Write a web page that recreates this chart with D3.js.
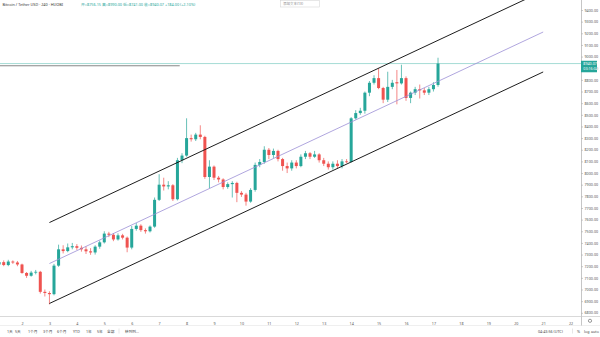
<!DOCTYPE html>
<html>
<head>
<meta charset="utf-8">
<script src="https://cdn.jsdelivr.net/npm/d3@7"></script>
<style>
  html, body { margin: 0; padding: 0; background: #ffffff; }
  svg { display: block; font-family: "Noto Sans", "Noto Sans CJK SC", sans-serif; }
</style>
</head>
<body>
<svg id="chart" width="600" height="337"></svg>
<script>
// BTC/USDT, 4-hour bars on HUOBI, first bar opens 2020-01-01 04:00 UTC
const firstBar = Date.UTC(2020, 0, 1, 4);
const barHours = 4;

const opens = [
  7215, 7235, 7210, 7240, 7232, 7215, 7142, 7118, 7145, 7152, 6980, 6970,
  6960, 7205, 7345, 7330, 7362, 7372, 7358, 7345, 7328, 7318, 7368, 7405,
  7480, 7470, 7430, 7465, 7445, 7360, 7520, 7548, 7510, 7500, 7540, 7770,
  7900, 7885, 7895, 7775, 8110, 8150, 8300, 8290, 8330, 8310, 7966, 8055,
  7960, 7945, 7880, 7905, 7915, 7830, 7815, 7755, 7855, 8070, 8095, 8200,
  8155, 8190, 8120, 8060, 8040, 8090, 8060, 8140, 8170, 8140, 8160, 8110,
  8080, 8050, 8080, 8060, 8100, 8095, 8470, 8515, 8535, 8690, 8775, 8815,
  8730, 8630, 8740, 8780, 8770, 8815, 8645, 8690, 8720, 8710, 8690, 8720,
  8756.15
];
const highs = [
  7245, 7250, 7255, 7250, 7245, 7222, 7150, 7160, 7168, 7160, 7000, 6985,
  7220, 7385, 7380, 7395, 7400, 7390, 7378, 7370, 7355, 7380, 7420, 7500,
  7495, 7485, 7482, 7478, 7455, 7545, 7570, 7560, 7525, 7550, 7790, 7990,
  7960, 7930, 7905, 8130, 8170, 8470, 8330, 8345, 8410, 8320, 8110, 8065,
  7975, 7955, 7920, 7930, 7925, 7845, 7830, 7870, 8090, 8120, 8230, 8215,
  8210, 8200, 8130, 8090, 8110, 8110, 8160, 8190, 8180, 8190, 8170, 8130,
  8100, 8100, 8110, 8120, 8120, 8480, 8540, 8560, 8700, 8790, 8840, 8900,
  8740, 8870, 8800, 8885, 8930, 8830, 8700, 8740, 8760, 8730, 8740, 8780,
  8990.00
];
const lows = [
  7205, 7200, 7200, 7220, 7200, 7135, 7100, 7110, 7130, 6965, 6940, 6872,
  6950, 7195, 7310, 7320, 7345, 7340, 7325, 7305, 7298, 7300, 7350, 7395,
  7450, 7415, 7420, 7430, 7320, 7345, 7505, 7495, 7480, 7490, 7530, 7760,
  7850, 7860, 7760, 7765, 8085, 8140, 8270, 8275, 8290, 7950, 7870, 7940,
  7920, 7860, 7865, 7790, 7750, 7795, 7720, 7745, 7840, 8050, 8080, 8120,
  8130, 8100, 8020, 8000, 8020, 8040, 8050, 8120, 8120, 8130, 8090, 8060,
  8030, 8030, 8040, 8040, 8085, 8090, 8460, 8500, 8510, 8660, 8760, 8720,
  8600, 8610, 8720, 8590, 8760, 8620, 8600, 8670, 8640, 8670, 8670, 8700,
  8741.00
];
const closes = [
  7235, 7210, 7240, 7232, 7215, 7142, 7118, 7145, 7152, 6980, 6970, 6960,
  7205, 7345, 7330, 7362, 7372, 7358, 7345, 7328, 7318, 7368, 7405, 7480,
  7470, 7430, 7465, 7445, 7360, 7520, 7548, 7510, 7500, 7540, 7770, 7900,
  7885, 7895, 7775, 8110, 8150, 8300, 8290, 8330, 8310, 7966, 8055, 7960,
  7945, 7880, 7905, 7915, 7830, 7815, 7755, 7855, 8070, 8095, 8200, 8155,
  8190, 8120, 8060, 8040, 8090, 8060, 8140, 8170, 8140, 8160, 8110, 8080,
  8050, 8080, 8060, 8100, 8095, 8470, 8515, 8535, 8690, 8775, 8815, 8730,
  8630, 8740, 8775, 8770, 8815, 8645, 8690, 8720, 8710, 8690, 8720, 8756,
  8940.07
];

// Parallel channel drawn on the chart: two anchor times, price at each
const channelTimes = [Date.UTC(2020, 0, 3), Date.UTC(2020, 0, 21)];
const channelUpper = [7575, 9563];
const channelMiddle = [7223, 9211];
const channelLower = [6880, 8868];

const priceTicks = d3.range(6800, 9401, 100);
const dayTicks = d3.range(2, 23);
const rangeButtons = ["1天", "5天", "1个月", "3个月", "6个月", "YTD", "1年", "5年", "全部"];
const legendTitle = "Bitcoin / Tether USD · 240 · HUOBI";
const legendValues = "开=8756.15 高=8990.00 低=8741.00 收=8940.07 +184.00 (+2.10%)";
const countdown = "03:16:04";
const clockText = "04:43:56 (UTC)";

const UP = "#26a69a", DOWN = "#ef5350";
const plotRight = 581, plotBottom = 316;

const bars = opens.map((o, i) => ({
  t: new Date(firstBar + i * barHours * 3600e3),
  o, h: highs[i], l: lows[i], c: closes[i]
}));

const svg = d3.select("#chart");

const x = d3.scaleUtc()
  .domain([Date.UTC(2020, 0, 2), Date.UTC(2020, 0, 22)])
  .range([22, 570.6]);
const y = d3.scaleLinear().domain([6800, 9400]).range([312.8, 10]);

svg.append("defs").append("clipPath").attr("id", "plot")
  .append("rect").attr("x", 0).attr("y", 0).attr("width", plotRight).attr("height", plotBottom);

const plot = svg.append("g").attr("clip-path", "url(#plot)");

// last price line and a horizontal level on the left
const last = bars[bars.length - 1];
plot.append("line")
  .attr("x1", 0).attr("x2", plotRight)
  .attr("y1", y(last.c)).attr("y2", y(last.c))
  .attr("stroke", "#8fd3cb").attr("stroke-width", 0.8);
plot.append("line")
  .attr("x1", 0).attr("x2", x(new Date(Date.UTC(2020, 0, 7, 18))))
  .attr("y1", y(last.c) + 2.2).attr("y2", y(last.c) + 2.2)
  .attr("stroke", "#555").attr("stroke-width", 0.7);

// candles
const bw = 3;
const cg = plot.append("g");
cg.selectAll("line.wick").data(bars).join("line")
  .attr("class", "wick")
  .attr("x1", d => x(d.t)).attr("x2", d => x(d.t))
  .attr("y1", d => y(d.h)).attr("y2", d => y(d.l))
  .attr("stroke", d => d.c >= d.o ? UP : DOWN).attr("stroke-width", 0.7);
cg.selectAll("rect.body").data(bars).join("rect")
  .attr("class", "body")
  .attr("x", d => x(d.t) - bw / 2).attr("width", bw)
  .attr("y", d => y(Math.max(d.o, d.c)))
  .attr("height", d => Math.max(0.8, Math.abs(y(d.o) - y(d.c))))
  .attr("fill", d => d.c >= d.o ? UP : DOWN);

// channel
const chanLine = vals => d3.line()
  .x(d => x(new Date(d[0]))).y(d => y(d[1]))(channelTimes.map((t, i) => [t, vals[i]]));
plot.append("path").attr("d", chanLine(channelMiddle))
  .attr("fill", "none").attr("stroke", "#9c8fd6").attr("stroke-width", 0.8);
[channelUpper, channelLower].forEach(v => {
  plot.append("path").attr("d", chanLine(v))
    .attr("fill", "none").attr("stroke", "#111").attr("stroke-width", 0.95);
});

// price scale
svg.append("line").attr("x1", plotRight + 0.5).attr("x2", plotRight + 0.5)
  .attr("y1", 0).attr("y2", 326).attr("stroke", "#b8b8b8").attr("stroke-width", 0.8);
const yAxis = svg.append("g").attr("transform", `translate(${plotRight + 0.5},0)`)
  .call(d3.axisRight(y).tickValues(priceTicks).tickFormat(d => d.toFixed(2)).tickSize(1.5).tickPadding(1.5));
yAxis.select(".domain").remove();
yAxis.selectAll("line").attr("stroke", "#999").attr("stroke-width", 0.5);
yAxis.selectAll("text").attr("font-size", 3.7).attr("fill", "#555").attr("font-family", "Noto Sans, sans-serif");

// last price tag
const tagY = y(last.c);
svg.append("rect").attr("x", plotRight).attr("y", tagY - 2.8).attr("width", 16).attr("height", 11.5)
  .attr("fill", UP);
svg.append("text").attr("x", plotRight + 2.3).attr("y", tagY + 1.4)
  .attr("font-size", 3.7).attr("fill", "#fff").text(last.c.toFixed(2));
svg.append("text").attr("x", plotRight + 2.3).attr("y", tagY + 6.6)
  .attr("font-size", 3.7).attr("fill", "#fff").text(countdown);

// time scale
svg.append("line").attr("x1", 0).attr("x2", 600).attr("y1", plotBottom + 0.5).attr("y2", plotBottom + 0.5)
  .attr("stroke", "#c8c8c8").attr("stroke-width", 0.7);
const xAxis = svg.append("g").attr("transform", `translate(0,${plotBottom})`)
  .call(d3.axisBottom(x).tickValues(dayTicks.map(d => new Date(Date.UTC(2020, 0, d))))
    .tickFormat(d => d.getUTCDate()).tickSize(0).tickPadding(6.3));
xAxis.select(".domain").remove();
xAxis.selectAll("text").attr("font-size", 3.7).attr("fill", "#555").attr("font-family", "Noto Sans, sans-serif");

// settings gear
svg.append("circle").attr("cx", 590).attr("cy", 320.8).attr("r", 1.6)
  .attr("fill", "none").attr("stroke", "#555").attr("stroke-width", 0.6);

// bottom toolbar
svg.append("line").attr("x1", 0).attr("x2", 600).attr("y1", 325.5).attr("y2", 325.5)
  .attr("stroke", "#e4e4e4").attr("stroke-width", 0.6);
const tb = svg.append("g").attr("font-size", 3.7).attr("fill", "#444");
const btnX = [7, 15, 28, 43, 57, 73, 86, 97, 107];
tb.selectAll("text.btn").data(rangeButtons).join("text").attr("class", "btn")
  .attr("x", (d, i) => btnX[i]).attr("y", 332.5).text(d => d);
tb.append("line").attr("x1", 119).attr("x2", 119).attr("y1", 328.5).attr("y2", 333.5)
  .attr("stroke", "#ccc").attr("stroke-width", 0.5);
tb.append("text").attr("x", 125).attr("y", 332.5).text("转到到...");
tb.append("text").attr("x", 538).attr("y", 332.5).text(clockText);
tb.append("line").attr("x1", 572.5).attr("x2", 572.5).attr("y1", 328.5).attr("y2", 333.5)
  .attr("stroke", "#ccc").attr("stroke-width", 0.5);
tb.append("text").attr("x", 577).attr("y", 332.5).text("%");
tb.append("text").attr("x", 584).attr("y", 332.5).text("log");
tb.append("text").attr("x", 591).attr("y", 332.5).text("auto");

// legend
svg.append("text").attr("x", 2.5).attr("y", 6.2).attr("font-size", 3.8).attr("fill", "#333").text(legendTitle);
svg.append("text").attr("x", 81).attr("y", 6.2).attr("font-size", 3.8).attr("fill", UP).text(legendValues);

// note box near the top
svg.append("rect").attr("x", 280.5).attr("y", 0.5).attr("width", 39).attr("height", 6.5)
  .attr("fill", "#fff").attr("stroke", "#cfcfcf").attr("stroke-width", 0.5);
svg.append("text").attr("x", 283).attr("y", 5).attr("font-size", 3.5).attr("fill", "#888").text("添加文本(1X)");
</script>
</body>
</html>
